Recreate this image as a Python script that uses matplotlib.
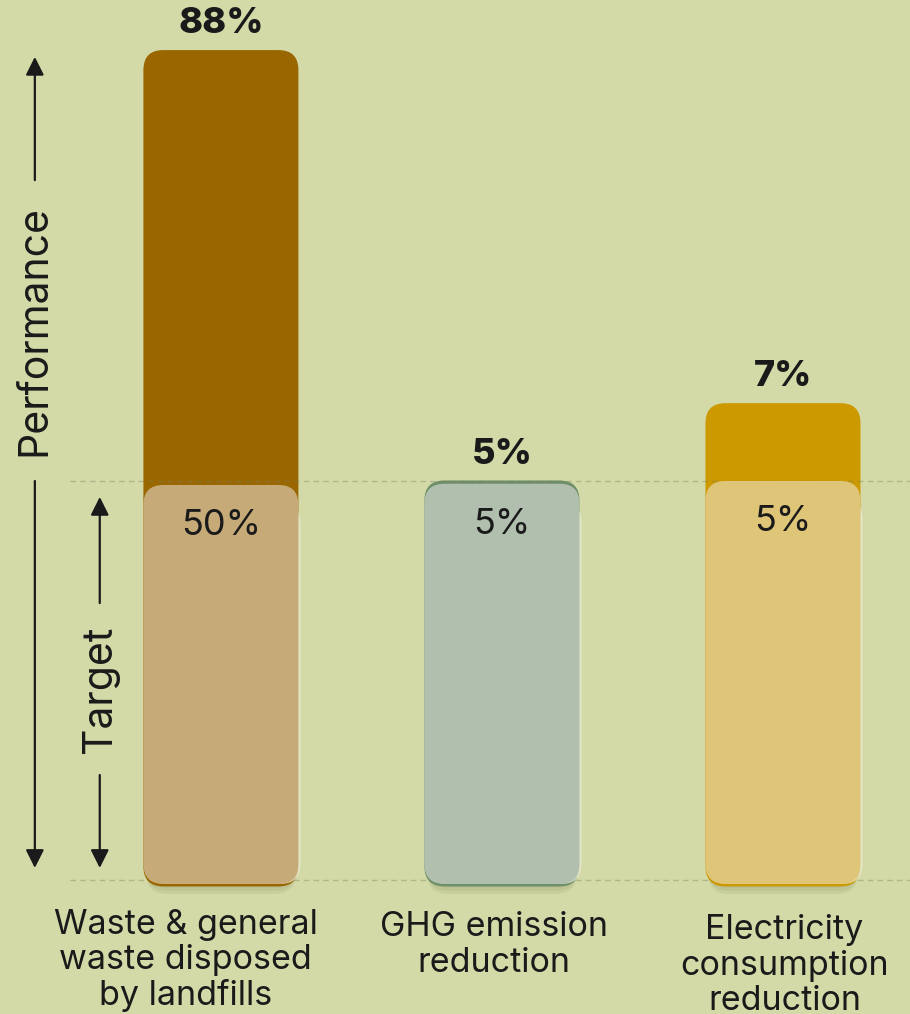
import numpy as np
import matplotlib.pyplot as plt
from matplotlib.patches import FancyBboxPatch, FancyArrowPatch

plt.rcParams['font.family'] = ['Inter', 'DejaVu Sans']

# data
categories = ['Waste & general\nwaste disposed\nby landfills',
              'GHG emission\nreduction',
              'Electricity\nconsumption\nreduction']
performance = [88, 5, 7]      # %
target = [50, 5, 5]           # %
# bar heights as drawn, in units of the target line (target line = 1)
perf_height = [2.08, 1.0, 1.195]
target_height = [0.99, 0.993, 1.0]

perf_colors = ['#996600', '#6E8F68', '#CC9900']
target_colors = ['#C6AA78', '#B1C0AE', '#DFC578']
BG = '#D3DAA8'
INK = '#1A1A1A'

fig = plt.figure(figsize=(9.1, 10.14), dpi=100, facecolor=BG)
ax = fig.add_axes([0, 0, 1, 1])
ax.set_facecolor(BG)
ax.set_xlim(-0.786, 2.452)
ax.set_ylim(-0.336, 2.2055)
ax.axis('off')

px_x = 910 / (2.452 + 0.786)   # pixels per x unit
px_y = 1014 / (2.2055 + 0.336)  # pixels per y unit
aspect = px_x / px_y


def rbox(x0, y0, w, h, color, z, r_px=20, alpha=1.0):
    p = FancyBboxPatch((x0, y0), w, h,
                       boxstyle=f'round,pad=0,rounding_size={r_px / px_x}',
                       mutation_aspect=aspect, fc=color, ec='none',
                       zorder=z, alpha=alpha)
    ax.add_patch(p)
    return p


x = np.arange(len(categories))
w = 155 / px_x
bottom = -0.01
dy = 1 / px_y
dx = 1 / px_x

for i in x:
    left = i - w / 2
    # soft shadow
    for k, a in [(10, 0.35), (7, 0.5), (4, 0.6)]:
        rbox(left + 3 * dx, bottom - k * dy, w - 6 * dx, 1.0, '#B5BB8C', 1, alpha=a)
    # performance bar (behind)
    extra = 0.5 * dy if i == 1 else 0
    rbox(left, bottom - 2.5 * dy, w, perf_height[i] - bottom + 2.5 * dy + extra,
         perf_colors[i], 2)
    # light edge on the right of the target bar
    rbox(left + 2 * dx, bottom, w, target_height[i] - bottom - 18 * dy, '#E9EBD2', 2.5, alpha=0.8)
    # target bar
    rbox(left, bottom, w, target_height[i] - bottom, target_colors[i], 3)

# reference lines: target line and baseline
for yy, z in [(1.0, 2.7), (0.0, 0.9)]:
    ax.plot([-0.537, 2.452], [yy, yy], color='#7D8060', alpha=0.4, lw=1,
            dashes=(4, 3), zorder=z, solid_capstyle='butt')

# value labels
for i in x:
    ax.annotate(f'{performance[i]}%', (i, perf_height[i]), xytext=(0, 12),
                textcoords='offset points', ha='center', va='baseline',
                fontsize=26, fontweight='heavy', color=INK, zorder=5)
    ax.annotate(f'{target[i]}%', (i, target_height[i]), xytext=(0, -29),
                textcoords='offset points', ha='center', va='center',
                fontsize=26, color=INK, zorder=5)

# category labels
label_dx = [-0.125, -0.03, 0.005]
label_top = [-0.072, -0.079, -0.086]
for i in x:
    ax.text(i + label_dx[i], label_top[i], categories[i], ha='center', va='top',
            fontsize=24.5, color=INK, linespacing=1.13, zorder=5)


# side arrows
def arrow(xa, y0, y1):
    ax.add_patch(FancyArrowPatch((xa, y0), (xa, y1),
                                 arrowstyle='-|>,head_length=1.1,head_width=0.55',
                                 mutation_scale=10, lw=1.6, color=INK,
                                 shrinkA=0, shrinkB=0, zorder=5))


xl = -0.662
arrow(xl, 1.754, max(perf_height) - 0.017)
arrow(xl, 1.0, 0.03)
ax.text(xl, 1.378, 'Performance', rotation=90, ha='center', va='center',
        fontsize=29.5, color=INK)

xs = -0.431
arrow(xs, 0.694, 0.96)
arrow(xs, 0.263, 0.03)
ax.text(xs, 0.479, 'Target', rotation=90, ha='center', va='center',
        fontsize=29.5, color=INK)

fig.savefig('out.png', dpi=100, facecolor=BG)
